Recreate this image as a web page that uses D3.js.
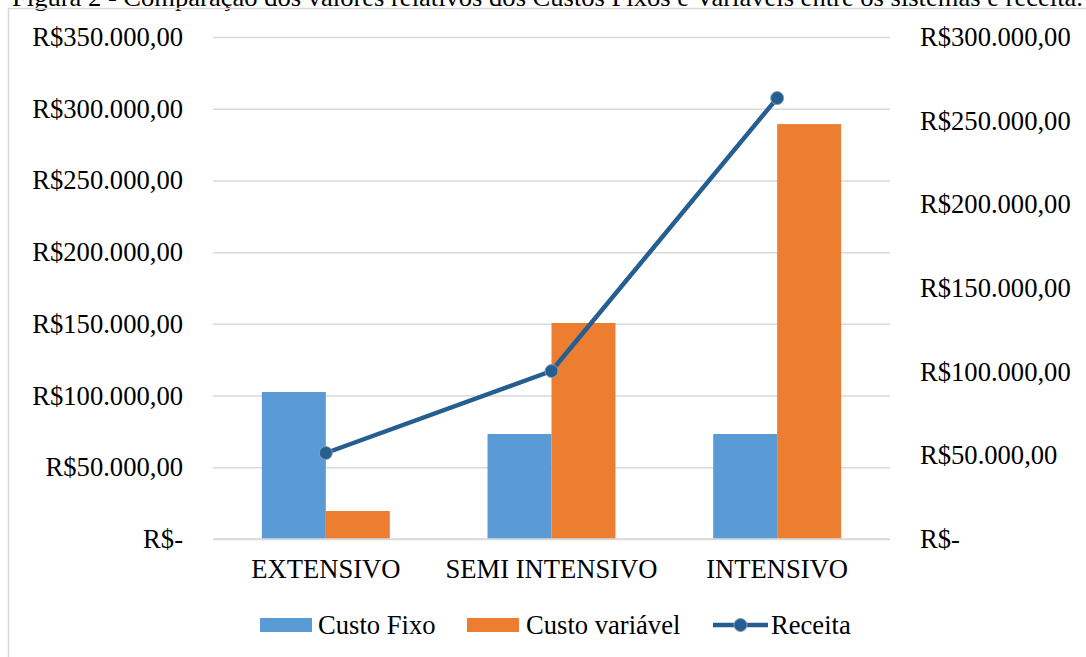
<!DOCTYPE html>
<html>
<head>
<meta charset="utf-8">
<script src="https://cdn.jsdelivr.net/npm/d3@7/dist/d3.min.js"></script>
<style>
  html, body { margin: 0; padding: 0; background: #fff; overflow: hidden; }
  svg { display: block; }
  text { font-family: "Liberation Serif", "Times New Roman", serif; fill: #000; }
</style>
</head>
<body>
<svg id="chart" width="1086" height="657"></svg>
<script>
// ---- Data ----
const categories = ["EXTENSIVO", "SEMI INTENSIVO", "INTENSIVO"];
const seriesNames = ["Custo Fixo", "Custo variável", "Receita"];
const custoFixo = [102500, 73200, 73200];
const custoVariavel = [19500, 150600, 289300];
const receita = [51400, 100400, 263500];
const leftTicks = [0, 50000, 100000, 150000, 200000, 250000, 300000, 350000];
const rightTicks = [0, 50000, 100000, 150000, 200000, 250000, 300000];
const titleText = "Figura 2 - Comparação dos valores relativos dos Custos Fixos e Variáveis entre os sistemas e receita.";

// ---- Styling ----
const colors = { fixo: "#5B9BD5", variavel: "#ED7D31", receita: "#255E91" };
const fontSize = 26.6;

const svg = d3.select("#chart");
const plot = { left: 213, right: 890, top: 37, bottom: 539 };

const locale = d3.formatLocale({ decimal: ",", thousands: ".", grouping: [3], currency: ["R$", ""] });
const fmtMoney = locale.format("$,.2f");
const fmt = v => v === 0 ? "R$-" : fmtMoney(v);

// Title (partially clipped at top, as in reference)
svg.append("text")
  .attr("x", 12).attr("y", 6)
  .attr("font-size", 26)
  .attr("textLength", 1071)
  .attr("lengthAdjust", "spacingAndGlyphs")
  .text(titleText);

// Chart border
svg.append("path")
  .attr("d", `M8.5,${657} V8.5 H${1090}`)
  .attr("fill", "none")
  .attr("stroke", "#D9D9D9")
  .attr("stroke-width", 1.5);

// Scales
const x = d3.scaleBand().domain(categories).range([plot.left, plot.right])
  .paddingInner(0.433).paddingOuter(0.2165);
const xs = d3.scaleBand().domain(["fixo", "variavel"]).range([0, x.bandwidth()]);
const yL = d3.scaleLinear().domain([0, 350000]).range([plot.bottom, plot.top]);
const yR = d3.scaleLinear().domain([0, 300000]).range([plot.bottom, plot.top]);

// Gridlines + left axis
const leftAxis = d3.axisLeft(yL).tickValues(leftTicks).tickFormat(fmt)
  .tickSize(-(plot.right - plot.left)).tickPadding(30);
const gL = svg.append("g").attr("transform", `translate(${plot.left},0)`).call(leftAxis);
gL.select(".domain").remove();
gL.selectAll(".tick line").attr("stroke", "#D9D9D9").attr("stroke-width", 1.5);
gL.selectAll(".tick text").attr("font-size", fontSize)
  .attr("font-family", "Liberation Serif, Times New Roman, serif").attr("fill", "#000")
  .attr("dy", "0.32em");

// Right axis
const rightAxis = d3.axisRight(yR).tickValues(rightTicks).tickFormat(fmt).tickSize(0).tickPadding(30);
const gR = svg.append("g").attr("transform", `translate(${plot.right},0)`).call(rightAxis);
gR.select(".domain").remove();
gR.selectAll(".tick text").attr("font-size", fontSize)
  .attr("font-family", "Liberation Serif, Times New Roman, serif").attr("fill", "#000")
  .attr("dy", "0.32em");

// Bars
const barData = [];
categories.forEach((c, i) => {
  barData.push({ cat: c, key: "fixo", value: custoFixo[i] });
  barData.push({ cat: c, key: "variavel", value: custoVariavel[i] });
});
svg.append("g").selectAll("rect").data(barData).join("rect")
  .attr("x", d => x(d.cat) + xs(d.key))
  .attr("y", d => yL(d.value))
  .attr("width", xs.bandwidth())
  .attr("height", d => yL(0) - yL(d.value))
  .attr("fill", d => colors[d.key]);

// Baseline (category axis)
svg.append("line")
  .attr("x1", plot.left).attr("x2", plot.right)
  .attr("y1", yL(0)).attr("y2", yL(0))
  .attr("stroke", "#D9D9D9").attr("stroke-width", 1.5);

// Category labels
const bottomAxis = d3.axisBottom(x).tickSize(0).tickPadding(0);
const gB = svg.append("g").attr("transform", `translate(0,${plot.bottom})`).call(bottomAxis);
gB.select(".domain").remove();
gB.selectAll(".tick text").attr("font-size", fontSize)
  .attr("font-family", "Liberation Serif, Times New Roman, serif").attr("fill", "#000")
  .attr("dy", null).attr("y", 39);

// Line (Receita, right axis)
const pts = categories.map((c, i) => [x(c) + x.bandwidth() / 2, yR(receita[i])]);
svg.append("path")
  .attr("d", d3.line()(pts))
  .attr("fill", "none")
  .attr("stroke", colors.receita)
  .attr("stroke-width", 4.5)
  .attr("stroke-linejoin", "round");
svg.append("g").selectAll("circle").data(pts).join("circle")
  .attr("cx", d => d[0]).attr("cy", d => d[1]).attr("r", 6.5)
  .attr("fill", colors.receita).attr("stroke", "#8a9bb0").attr("stroke-width", 1);

// Legend
const legendItems = [
  { name: seriesNames[0], type: "rect", color: colors.fixo, x: 260, tx: 318 },
  { name: seriesNames[1], type: "rect", color: colors.variavel, x: 467, tx: 526 },
  { name: seriesNames[2], type: "line", color: colors.receita, x: 713, tx: 771 }
];
const lg = svg.append("g");
legendItems.forEach(it => {
  if (it.type === "rect") {
    lg.append("rect").attr("x", it.x).attr("y", 618).attr("width", 52).attr("height", 14).attr("fill", it.color);
  } else {
    lg.append("line").attr("x1", it.x).attr("x2", it.x + 55).attr("y1", 625).attr("y2", 625)
      .attr("stroke", it.color).attr("stroke-width", 4.5);
    lg.append("circle").attr("cx", it.x + 27.5).attr("cy", 625).attr("r", 6.5)
      .attr("fill", it.color).attr("stroke", "#8a9bb0").attr("stroke-width", 1);
  }
  lg.append("text").attr("x", it.tx).attr("y", 634).attr("font-size", fontSize).text(it.name);
});
</script>
</body>
</html>
